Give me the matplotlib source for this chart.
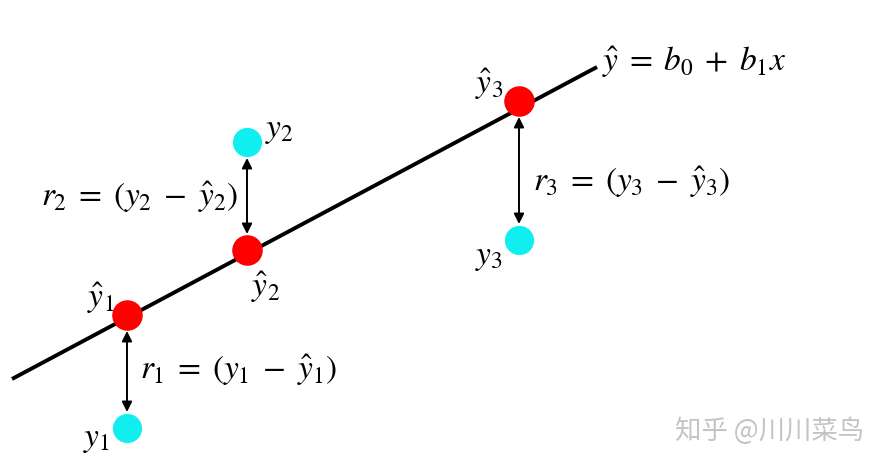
import matplotlib
matplotlib.use("Agg")
import matplotlib.pyplot as plt

plt.rcParams['mathtext.fontset'] = 'stix'
plt.rcParams['font.family'] = ['STIXGeneral', 'DejaVu Serif']

# Data (in picture units)
line_x = [12, 597]
line_y = [379, 67]
x_pts = [127, 247, 519]
y_fit = [315, 250, 101]
y_obs = [428, 142, 240]
fit_labels = [r'$\hat{y}_1$', r'$\hat{y}_2$', r'$\hat{y}_3$']
obs_labels = [r'$y_1$', r'$y_2$', r'$y_3$']
res_labels = [r'$r_1\;=\;(y_1\;-\;\hat{y}_1)$', r'$r_2\;=\;(y_2\;-\;\hat{y}_2)$',
              r'$r_3\;=\;(y_3\;-\;\hat{y}_3)$']
eq_label = r'$\hat{y}\;=\;b_0\;+\;b_1x$'
watermark = '知乎 @川川菜鸟'

fig = plt.figure(figsize=(8.89, 4.65), dpi=100)
ax = fig.add_axes([0, 0, 1, 1])
ax.set_xlim(0, 889)
ax.set_ylim(465, 0)
ax.axis('off')

ax.plot(line_x, line_y, color='black', lw=2.8, solid_capstyle='butt', zorder=1)

gap = 16
for x, yf, yo in zip(x_pts, y_fit, y_obs):
    if yo > yf:
        a, b = yf + gap, yo - gap
    else:
        a, b = yf - gap, yo + gap
    ax.annotate('', xy=(x, b), xytext=(x, a),
                arrowprops=dict(arrowstyle='<|-|>', color='black', lw=1.4,
                                mutation_scale=15, shrinkA=0, shrinkB=0))

ax.plot(x_pts, y_fit, 'o', color='#ff0000', ms=22, mec='none', zorder=3)
ax.plot(x_pts, y_obs, 'o', color='#10eef0', ms=21, mec='none', zorder=3)

fs = 24
# fitted labels
ax.text(114, 298, fit_labels[0], fontsize=fs, ha='right', va='center')
ax.text(266, 287, fit_labels[1], fontsize=fs, ha='center', va='center')
ax.text(503, 84, fit_labels[2], fontsize=fs, ha='right', va='center')
# observed labels
ax.text(110, 440, obs_labels[0], fontsize=fs, ha='right', va='center')
ax.text(265, 131, obs_labels[1], fontsize=fs, ha='left', va='center')
ax.text(503, 258, obs_labels[2], fontsize=fs, ha='right', va='center')
# residual labels
ax.text(140, 370, res_labels[0], fontsize=fs, ha='left', va='center')
ax.text(238, 197, res_labels[1], fontsize=fs, ha='right', va='center')
ax.text(533, 182, res_labels[2], fontsize=fs, ha='left', va='center')
# equation
ax.text(602, 62, eq_label, fontsize=fs, ha='left', va='center')

ax.text(675, 431, watermark, fontsize=19, color='#c4c4c4', ha='left', va='center',
        family=['Noto Sans CJK SC', 'DejaVu Sans'])

fig.savefig('out.png', dpi=100)
